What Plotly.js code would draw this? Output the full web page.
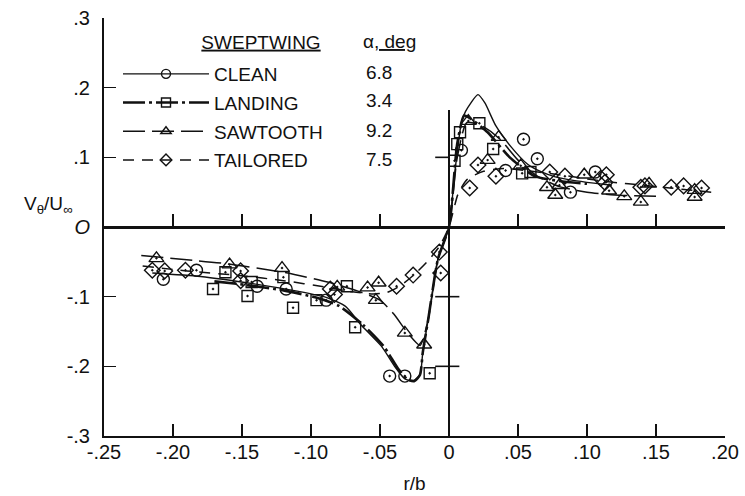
<!DOCTYPE html>
<html>
<head>
<meta charset="utf-8">
<script src="https://cdn.plot.ly/plotly-3.0.1.min.js"></script>
<style>html,body{margin:0;padding:0;background:#fff}#chart{width:745px;height:496px}</style>
</head>
<body>
<div id="chart"></div>
<script>
// ---- Series names and angles of attack ----
const seriesNames = ["CLEAN", "LANDING", "SAWTOOTH", "TAILORED"];
const alphaDeg = ["6.8", "3.4", "9.2", "7.5"];

// ---- Measured points (r/b, Vθ/U∞) ----
const cleanR = [-0.207, -0.183, -0.139, -0.118, -0.089, -0.043, -0.032, 0.009, 0.041, 0.054, 0.064, 0.088, 0.106];
const cleanV = [-0.075, -0.062, -0.085, -0.089, -0.105, -0.214, -0.214, 0.110, 0.081, 0.126, 0.098, 0.050, 0.079];

const landingR = [-0.171, -0.162, -0.146, -0.143, -0.120, -0.113, -0.096, -0.074, -0.068, -0.014, 0.004, 0.006, 0.008, 0.022, 0.032, 0.053, 0.059];
const landingV = [-0.089, -0.065, -0.099, -0.079, -0.072, -0.116, -0.105, -0.085, -0.144, -0.210, 0.095, 0.119, 0.136, 0.149, 0.112, 0.077, 0.079];

const sawR = [-0.212, -0.159, -0.121, -0.081, -0.059, -0.051, -0.053, -0.032, -0.018, 0.014, 0.028, 0.036, 0.052, 0.071, 0.080, 0.077, 0.098, 0.116, 0.127, 0.139, 0.145, 0.178, 0.178];
const sawV = [-0.045, -0.054, -0.059, -0.086, -0.087, -0.080, -0.105, -0.152, -0.169, 0.152, 0.096, 0.129, 0.088, 0.057, 0.060, 0.046, 0.075, 0.052, 0.044, 0.036, 0.062, 0.053, 0.043];

const tailR = [-0.215, -0.206, -0.191, -0.151, -0.151, -0.086, -0.083, -0.038, -0.026, -0.007, -0.006, 0.015, 0.021, 0.034, 0.073, 0.084, 0.110, 0.113, 0.114, 0.139, 0.142, 0.161, 0.170, 0.183];
const tailV = [-0.062, -0.063, -0.062, -0.063, -0.077, -0.089, -0.097, -0.085, -0.069, -0.036, -0.066, 0.056, 0.089, 0.073, 0.079, 0.073, 0.070, 0.064, 0.075, 0.057, 0.059, 0.057, 0.059, 0.056];

// ---- Faired curves ----
const cleanCurveR = [-0.215, -0.18, -0.14, -0.11, -0.089, -0.075, -0.064, -0.049, -0.039, -0.032, -0.026, -0.021, -0.019, -0.015, -0.008, 0, 0.004, 0.009, 0.012, 0.021, 0.026, 0.034, 0.045, 0.057, 0.067, 0.077, 0.09, 0.105, 0.118];
const cleanCurveV = [-0.066, -0.071, -0.082, -0.092, -0.101, -0.114, -0.140, -0.171, -0.201, -0.218, -0.221, -0.212, -0.180, -0.132, -0.046, 0, 0.075, 0.150, 0.166, 0.190, 0.178, 0.145, 0.115, 0.090, 0.079, 0.072, 0.067, 0.063, 0.060];

const landingCurveR = [-0.170, -0.148, -0.12, -0.097, -0.08, -0.062, -0.047, -0.037, -0.030, -0.025, -0.021, -0.019, -0.015, -0.008, 0, 0.006, 0.011, 0.016, 0.028, 0.044, 0.062, 0.08, 0.10];
const landingCurveV = [-0.078, -0.083, -0.091, -0.101, -0.113, -0.141, -0.172, -0.203, -0.219, -0.221, -0.212, -0.180, -0.132, -0.046, 0, 0.12, 0.160, 0.155, 0.136, 0.100, 0.073, 0.066, 0.062];

const sawCurveR = [-0.223, -0.16, -0.12, -0.088, -0.066, -0.050, -0.040, -0.030, -0.021, -0.015, -0.008, 0, 0.006, 0.013, 0.024, 0.037, 0.050, 0.064, 0.080, 0.100, 0.120, 0.150];
const sawCurveV = [-0.041, -0.053, -0.065, -0.079, -0.092, -0.105, -0.125, -0.152, -0.170, -0.132, -0.046, 0, 0.10, 0.150, 0.145, 0.126, 0.096, 0.073, 0.058, 0.050, 0.046, 0.044];

const tailCurveR = [-0.222, -0.19, -0.15, -0.12, -0.09, -0.07, -0.055, -0.045, -0.035, -0.025, -0.015, -0.007, 0, 0.0065, 0.013, 0.025, 0.04, 0.06, 0.08, 0.10, 0.12, 0.14, 0.16, 0.19];
const tailCurveV = [-0.056, -0.063, -0.070, -0.077, -0.086, -0.093, -0.096, -0.094, -0.084, -0.068, -0.048, -0.028, 0, 0.047, 0.068, 0.080, 0.084, 0.080, 0.075, 0.069, 0.064, 0.060, 0.056, 0.050];

// ---- Axis ticks ----
const xTickVals = [-0.25, -0.20, -0.15, -0.10, -0.05, 0, 0.05, 0.10, 0.15, 0.20];
const xTickText = ["-.25", "-.20", "-.15", "-.10", "-.05", "0", ".05", ".10", ".15", ".20"];
const yTickVals = [-0.3, -0.2, -0.1, 0, 0.1, 0.2, 0.3];
const yTickText = ["-.3", "-.2", "-.1", "<i>O</i>", ".1", ".2", ".3"];
const zeroLineTicks = [-0.20, -0.15, -0.10, -0.05, 0.05, 0.10, 0.15, 0.20];

const FONT = "Liberation Sans, Arial, Helvetica, sans-serif";
const INK = "#111";

const symbols = ["circle-open-dot", "square-open-dot", "triangle-up-open-dot", "diamond-open-dot"];
const legendSymbols = ["circle-open", "square-open", "triangle-up-open", "diamond-open"];
const dashes = ["solid", "22px,4px,3px,4px", "22px,7px", "11px,8px"];
const widths = [1.4, 2.6, 1.5, 1.5];
const markerSizes = [12, 11, 13, 12];

const pts = [[cleanR, cleanV], [landingR, landingV], [sawR, sawV], [tailR, tailV]];
const curves = [[cleanCurveR, cleanCurveV], [landingCurveR, landingCurveV], [sawCurveR, sawCurveV], [tailCurveR, tailCurveV]];

const traces = [];
for (let i = 0; i < 4; i++) {
  traces.push({
    type: "scatter", mode: "lines", x: curves[i][0], y: curves[i][1],
    line: {color: INK, width: widths[i], dash: dashes[i], shape: "spline", smoothing: 0.6},
    showlegend: false, hoverinfo: "skip"
  });
}
for (let i = 0; i < 4; i++) {
  traces.push({
    type: "scatter", mode: "markers", x: pts[i][0], y: pts[i][1],
    xaxis: i === 3 ? "x2" : "x",
    marker: {symbol: symbols[i], size: markerSizes[i], color: INK, line: {color: INK, width: 1.4}},
    showlegend: false, name: seriesNames[i]
  });
}
// legend entries
for (let i = 0; i < 4; i++) {
  traces.push({
    type: "scatter", mode: "lines+markers", x: [null], y: [null],
    name: seriesNames[i], legendgroup: "g" + i,
    line: {color: INK, width: widths[i], dash: dashes[i]},
    marker: {symbol: legendSymbols[i], size: 9, color: INK, line: {color: INK, width: 1.4}}
  });
}

const px = v => (v - 104) / 621;      // paper x from pixel
const py = v => (436 - v) / 418;      // paper y from pixel

const annotations = [
  {text: "α<u>, deg</u>", x: px(389), y: py(42)},
  {text: "V<sub>θ</sub>/U<sub>∞</sub>", x: px(48), y: py(205)}
].map(a => Object.assign({xref: "paper", yref: "paper", showarrow: false, xanchor: "center", yanchor: "middle", font: {family: FONT, size: 19, color: INK}}, a));

const rowY = [73, 101, 130, 159];
alphaDeg.forEach((t, i) => annotations.push({
  text: t, xref: "paper", yref: "paper", x: px(379), y: py(rowY[i]), showarrow: false,
  xanchor: "center", yanchor: "middle", font: {family: FONT, size: 19, color: INK}
}));

const shapes = [
  {type: "line", xref: "x", yref: "y", x0: 0, x1: 0, y0: -0.3, y1: 0.168, line: {color: INK, width: 2}},
  {type: "line", xref: "x", yref: "y", x0: -0.010, x1: 0.0075, y0: -0.1, y1: -0.1, line: {color: INK, width: 1.6}},
  {type: "line", xref: "x", yref: "y", x0: -0.010, x1: 0.0075, y0: -0.2, y1: -0.2, line: {color: INK, width: 1.6}},
  {type: "line", xref: "x", yref: "y", x0: -0.010, x1: 0, y0: 0.1, y1: 0.1, line: {color: INK, width: 1.6}}
];

const layout = {
  width: 745, height: 496,
  margin: {l: 104, r: 20, t: 18, b: 60},
  paper_bgcolor: "#fff", plot_bgcolor: "#fff",
  font: {family: FONT, size: 19, color: INK},
  title: {
    text: "<u>SWEPTWING</u>", xref: "paper", x: px(261), xanchor: "center",
    yref: "container", y: 1 - 42 / 496, yanchor: "middle",
    font: {family: FONT, size: 19, color: INK}
  },
  showlegend: true,
  legend: {
    x: px(118), y: py(55), xanchor: "left", yanchor: "top",
    bgcolor: "rgba(0,0,0,0)", font: {family: FONT, size: 19, color: INK},
    itemwidth: 86, traceorder: "grouped", tracegroupgap: 1, itemclick: false
  },
  xaxis: {
    range: [-0.25, 0.20], showgrid: false, zeroline: false,
    showline: true, linecolor: INK, linewidth: 2, mirror: false,
    ticks: "inside", ticklen: 12, tickwidth: 1.6, tickcolor: INK,
    tickvals: xTickVals, ticktext: xTickText,
    tickfont: {family: FONT, size: 20, color: INK}, ticklabelstandoff: -3,
    title: {text: "r/b", font: {family: FONT, size: 19, color: INK}, standoff: 15}
  },
  xaxis2: {
    matches: "x", overlaying: "x", anchor: "free", position: 0.5, side: "bottom",
    range: [-0.25, 0.20], showgrid: false, zeroline: false,
    showline: true, linecolor: INK, linewidth: 2.5,
    ticks: "inside", ticklen: 12, tickwidth: 1.6, tickcolor: INK,
    tickvals: zeroLineTicks, showticklabels: false
  },
  yaxis: {
    range: [-0.3, 0.3], showgrid: false, zeroline: false,
    showline: true, linecolor: INK, linewidth: 2,
    ticks: "inside", ticklen: 12, tickwidth: 1.6, tickcolor: INK,
    tickvals: yTickVals, ticktext: yTickText,
    tickfont: {family: FONT, size: 20, color: INK}, ticklabelstandoff: 8
  },
  annotations: annotations,
  shapes: shapes
};

Plotly.newPlot("chart", traces, layout, {staticPlot: true, displayModeBar: false});
</script>
</body>
</html>
